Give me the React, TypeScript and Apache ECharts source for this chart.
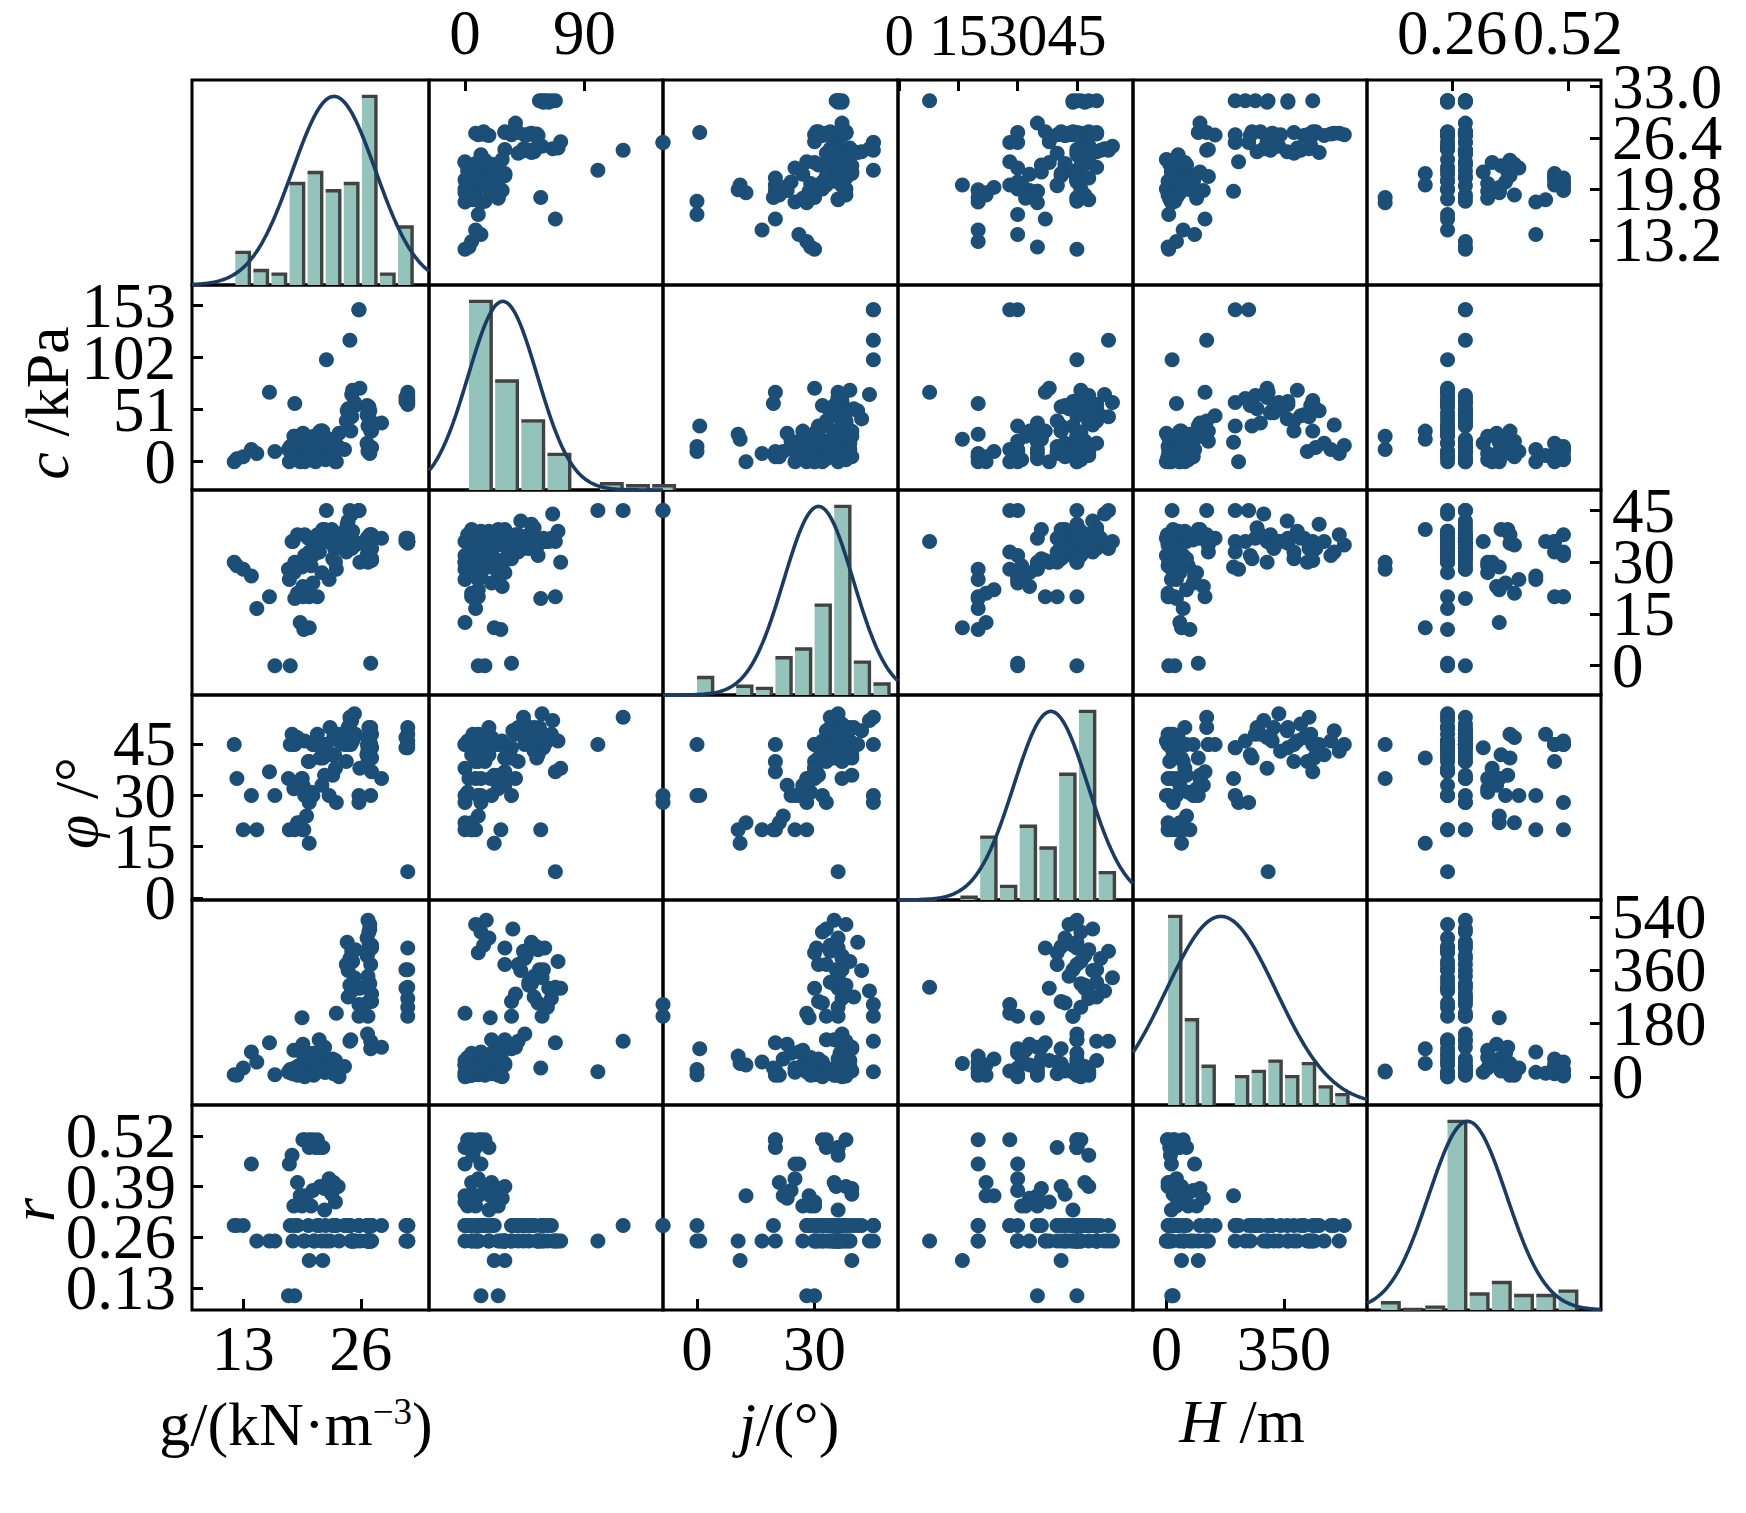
import React, { useEffect, useRef } from "react";
import * as echarts from "echarts";

// ---- observations (one entry per sample, same order in every array) ----
const gamma = [
  31.2, 31.2, 31.2, 31.2, 31.2, 31.2, 31.0, 31.0, 25.8, 25.8, 19.5, 23.3,
  26.8, 27.0, 26.7, 27.2, 26.9, 26.8, 27.1, 26.7, 26.9, 27.0, 26.8, 27.2, 26.7, 26.9, 27.0, 26.8,
  24.6, 25.0, 24.8, 25.3, 24.6, 25.1, 24.8, 25.4, 24.5, 25.0,
  27.2, 25.9, 24.4, 27.2,
  19.6, 20.3, 21.0, 21.8, 20.3, 21.4, 13.9, 18.1, 19.0, 22.5,
  23.0, 20.7, 19.8, 21.2, 18.4, 19.3, 20.0, 20.7, 22.0, 22.8,
  23.5, 19.6, 21.5, 19.5, 20.5, 22.0, 23.2, 18.6, 20.3, 21.8,
  18.0, 18.7, 12.0, 12.3, 14.5, 15.9, 16.5, 18.2, 18.7, 22.2,
  24.8, 27.1, 26.75, 27.1, 28.3, 24.9, 21.4, 18.5, 19.0, 19.8,
  20.2, 20.8, 21.2, 21.7, 22.1, 22.6, 23.1, 23.6, 24.2, 19.7,
  22.9, 20.9, 13.0,
];
const cohesion = [
  58, 62, 65, 68, 56, 60, 63, 59, 149, 149, 19, 0,
  35, 50, 55, 38, 48, 52, 30, 46, 54, 36, 10, 14, 18, 12, 8, 16,
  52, 66, 48, 58, 42, 70, 45, 55, 50, 44,
  35, 72, 40, 30,
  5, 12, 0, 18, 8, 3, 12, 0, 5, 10,
  20, 15, 2, 10, 6, 0, 10, 20, 25, 5,
  15, 28, 30, 8, 2, 18, 0, 25, 22, 30,
  12, 25, 0, 3, 8, 68, 10, 15, 57, 100,
  119, 35, 45, 40, 38, 30, 20, 5, 20, 0,
  15, 25, 10, 30, 2, 18, 8, 28, 12, 27,
  22, 5, 5,
];
const phi = [
  36, 36, 37, 36, 35.5, 36, 36, 37, 45, 45, 28.6, 28,
  33, 35, 32, 38, 34, 36, 31, 37, 35, 33, 30, 34, 36, 32, 38, 35,
  40, 44, 38, 36, 42, 39, 37, 35, 41, 34,
  31, 30, 33, 30.5,
  20, 33, 36, 36, 20, 33, 26, 25, 21, 25,
  35, 32, 38, 20, 36, 12.5, 22, 24, 39.5, 39.5,
  35.5, 23, 38, 30, 29, 36, 30, 27, 11, 39.5,
  28, 30, 30, 29, 16.6, 20, 0, 0, 19.5, 45,
  45, 0.7, 37, 38, 37, 35, 33, 36, 38, 32,
  37, 35, 38, 27, 36, 39, 34, 37, 39, 10.5,
  31, 36.5, 28,
];
const psi = [
  44, 46, 48, 7.7, 50, 45, 47, 44, 30, 28, 35, 28,
  44, 46, 42, 48, 50, 43, 45, 47, 41, 49, 40, 44, 42, 46, 43, 45,
  50, 52, 47, 54, 49, 46, 51, 48, 45, 53,
  41, 38, 40, 37,
  20, 28, 45, 45, 40, 45, 30, 20, 22, 30,
  47, 45, 46, 45, 48, 22, 24, 30, 36, 42,
  48, 33, 41, 35, 31, 44, 38, 32, 16, 41,
  35, 45, 45, 35, 20, 37, 30, 45, 20, 45,
  53, 30, 45, 50, 35, 45, 45, 45, 47, 30,
  40, 45, 48, 33, 45, 50, 42, 46, 45, 20,
  36, 45, 20,
];
const height = [
  205, 235, 265, 303, 362, 436, 300, 362, 205, 245, 200, 215,
  205, 315, 250, 280, 320, 340, 380, 410, 440, 500, 420, 445, 470, 490, 515, 530,
  270, 290, 310, 335, 360, 390, 400, 430, 455, 425,
  255, 300, 380, 436,
  5, 20, 40, 60, 10, 30, 84, 15, 5, 30,
  10, 50, 3, 25, 12, 40, 60, 80, 100, 20,
  5, 110, 45, 30, 65, 15, 55, 90, 45, 95,
  16, 20, 7, 5, 50, 115, 7, 25, 30, 17,
  120, 95, 145, 120, 100, 125, 125, 10, 35, 0,
  50, 5, 20, 40, 15, 55, 25, 0, 35, 70,
  60, 80, 30,
];
const ratio = [
  0.29, 0.25, 0.29, 0.25, 0.25, 0.29, 0.29, 0.25, 0.29, 0.29, 0.366, 0.29,
  0.25, 0.29, 0.25, 0.29, 0.25, 0.29, 0.25, 0.29, 0.25, 0.29, 0.25, 0.29, 0.25, 0.29, 0.25, 0.29,
  0.29, 0.25, 0.29, 0.25, 0.29, 0.25, 0.29, 0.25, 0.29, 0.25,
  0.29, 0.25, 0.29, 0.25,
  0.51, 0.51, 0.49, 0.49, 0.49, 0.49, 0.448, 0.448, 0.40, 0.41,
  0.40, 0.51, 0.51, 0.51, 0.47, 0.366, 0.366, 0.38, 0.385, 0.37,
  0.39, 0.36, 0.39, 0.34, 0.34, 0.33, 0.35, 0.34, 0.2, 0.2,
  0.11, 0.11, 0.29, 0.29, 0.25, 0.25, 0.25, 0.29, 0.29, 0.25,
  0.29, 0.25, 0.29, 0.25, 0.29, 0.25, 0.29, 0.25, 0.29, 0.25,
  0.29, 0.25, 0.29, 0.25, 0.29, 0.25, 0.29, 0.25, 0.29, 0.25,
  0.29, 0.25, 0.29,
];

// ---- histogram counts on the diagonal ----
const gammaHist = [9, 4, 3, 28, 31, 26, 28, 52, 3, 16];
const cohesionHist = [90, 52, 33, 17, 0, 3, 2, 2];
const phiHist = [8, 0, 4, 3, 17, 21, 41, 86, 15, 5];
const psiHist = [0.2, 0, 1, 23, 5, 27, 19, 46, 69, 10];
const heightHist = [73, 33, 15, 0, 11, 13, 17, 11, 16, 7, 4];
const ratioHist = [5, 0.3, 2, 130, 11, 19, 10, 10, 13];
const histStart = [11.9, 1.5, -0.5, 5, -1, 0.096];
const histWidth = [2.0, 19.7, 5.0, 5.0, 49.8, 0.0498];

// fitted normal curves
const curveMean = [23.04, 28.4, 31.0, 38.4, 162.6, 0.295];
const curveSd = [4.6, 26, 8.9, 9.4, 164, 0.0875];

// axis ranges / ticks
const colMin = [7.33, -27.09, -8.67, -0.3, -99.5, 0.0693];
const colMax = [33.55, 149.0, 51.28, 59.2, 597.6, 0.5942];
const rowMin = [7.39, -27.7, -8.5, -0.62, -95.4, 0.0733];
const rowMax = [33.87, 173.2, 50.97, 59.5, 598.3, 0.599];
const colTicks = [[13, 26], [0, 90], [0, 30], [0, 15, 30, 45], [0, 350], [0.26, 0.52]];
const rowTicks = [[13.2, 19.8, 26.4, 33.0], [0, 51, 102, 153], [0, 15, 30, 45], [0, 15, 30, 45], [0, 180, 360, 540], [0.13, 0.26, 0.39, 0.52]];
const colDecimals = [0, 0, 0, 0, 0, 2];
const rowDecimals = [1, 0, 0, 0, 0, 2];

const COL_EDGES = [192, 429, 663, 898, 1133, 1367, 1601];
const ROW_TOP = 80;
const ROW_H = 205;
const FONT = "Liberation Serif, Times New Roman, serif";
const DOT = "#1B4F78";
const CURVE = "#1A3C64";
const BAR_FILL = "#93C3BA";
const BAR_EDGE = "#424242";

export default function App() {
  const ref = useRef<HTMLDivElement>(null);
  useEffect(() => {
    const chart = echarts.init(ref.current!, null, { renderer: "svg" });
    const vars = [gamma, cohesion, phi, psi, height, ratio];
    const hists = [gammaHist, cohesionHist, phiHist, psiHist, heightHist, ratioHist];

    const grids: any[] = [];
    const xAxes: any[] = [];
    const yAxes: any[] = [];
    const extraY: any[] = [];
    const series: any[] = [];
    const labelBase = {
      show: true,
      fontSize: 63,
      fontFamily: FONT,
      color: "#000",
      hideOverlap: false,
      showMinLabel: true,
      showMaxLabel: true,
    };
    const tickBase = { inside: true, length: 11, lineStyle: { width: 3, color: "#000" } };

    for (let i = 0; i < 6; i++) {
      for (let j = 0; j < 6; j++) {
        const k = i * 6 + j;
        grids.push({
          left: COL_EDGES[j],
          top: ROW_TOP + i * ROW_H,
          width: COL_EDGES[j + 1] - COL_EDGES[j],
          height: ROW_H,
          show: true,
          borderColor: "#000",
          borderWidth: 3,
          backgroundColor: "transparent",
          containLabel: false,
          outerBoundsMode: "none",
        });
        const showX = (i === 0 && j % 2 === 1) || (i === 5 && j % 2 === 0);
        const cd = colDecimals[j];
        xAxes.push({
          type: "value",
          gridIndex: k,
          min: colMin[j],
          max: colMax[j],
          position: i === 0 ? "top" : "bottom",
          axisLine: { show: false },
          splitLine: { show: false },
          axisTick: showX ? { ...tickBase, show: true, customValues: colTicks[j] } : { show: false },
          axisLabel: showX
            ? {
                ...labelBase,
                fontSize: j === 3 ? 59 : 63,
                customValues: colTicks[j],
                margin: i === 0 ? 16 : 7,
                formatter: (v: number) => v.toFixed(cd),
              }
            : { show: false },
        });
        const diag = i === j;
        const showY = !diag && ((j === 0 && i % 2 === 1) || (j === 5 && i % 2 === 0));
        const rd = rowDecimals[i];
        const hmax = Math.max(...hists[i]);
        const yPos = j === 5 ? "right" : "left";
        const yMargin = j === 5 ? 11 : 16;
        const ticks = rowTicks[i];
        const evenTicks = ticks.filter((_, q) => q % 2 === 0);
        const oddTicks = ticks.filter((_, q) => q % 2 === 1);
        const yLabel = (vals: number[]) => ({
          ...labelBase,
          customValues: vals,
          margin: yMargin,
          padding: [0, 0, 13, 0],
          formatter: (v: number) => v.toFixed(rd),
        });
        yAxes.push({
          type: "value",
          gridIndex: k,
          min: diag ? 0 : rowMin[i],
          max: diag ? hmax / 0.92 : rowMax[i],
          position: yPos,
          axisLine: { show: false },
          splitLine: { show: false },
          axisTick: showY ? { ...tickBase, show: true, customValues: ticks } : { show: false },
          axisLabel: showY ? yLabel(evenTicks) : { show: false },
        });
        if (showY) {
          // second label layer for the remaining ticks of the same scale
          extraY.push({
            type: "value",
            gridIndex: k,
            min: rowMin[i],
            max: rowMax[i],
            position: yPos,
            offset: 0,
            axisLine: { show: false },
            splitLine: { show: false },
            axisTick: { show: false },
            axisLabel: yLabel(oddTicks),
          });
        }

        if (diag) {
          const h = hists[i];
          const st = histStart[i];
          const w = histWidth[i];
          series.push({
            type: "custom",
            xAxisIndex: k,
            yAxisIndex: k,
            clip: false,
            encode: { x: [0, 1], y: 2 },
            data: h.map((v, b) => [st + b * w, st + (b + 1) * w, v]),
            renderItem: (params: any, api: any) => {
              const val = api.value(2);
              if (!val) return null;
              const a = api.coord([api.value(0), 0]);
              const b = api.coord([api.value(1), val]);
              const x0 = a[0] + 2;
              const x1 = b[0] - 2;
              const yb = a[1];
              const yt = b[1];
              return {
                type: "group",
                children: [
                  { type: "rect", shape: { x: x0, y: yt, width: x1 - x0, height: yb - yt }, style: { fill: BAR_FILL } },
                  {
                    type: "polyline",
                    shape: { points: [[x0, yt], [x1, yt], [x1, yb]] },
                    style: { stroke: BAR_EDGE, lineWidth: 3.4, fill: "none" },
                  },
                ],
              };
            },
            z: 2,
          });
          const m = curveMean[i];
          const s = curveSd[i];
          const pts: number[][] = [];
          const n = 200;
          for (let q = 0; q <= n; q++) {
            const x = colMin[j] + ((colMax[j] - colMin[j]) * q) / n;
            const z = (x - m) / s;
            pts.push([x, hmax * Math.exp(-0.5 * z * z)]);
          }
          series.push({
            type: "line",
            xAxisIndex: k,
            yAxisIndex: k,
            data: pts,
            showSymbol: false,
            symbol: "none",
            smooth: false,
            lineStyle: { color: CURVE, width: 3.6 },
            z: 3,
          });
        } else {
          const xs = vars[j];
          const ys = vars[i];
          series.push({
            type: "scatter",
            xAxisIndex: k,
            yAxisIndex: k,
            clip: false,
            symbol: "circle",
            symbolSize: 15,
            itemStyle: { color: DOT, opacity: 1 },
            data: xs.map((x, q) => [x, ys[q]]),
            z: 2,
          });
        }
      }
    }

    const titleStyle = (text: string) => ({
      text,
      fontSize: 62,
      fontFamily: FONT,
      fill: "#000",
      align: "center",
      verticalAlign: "middle",
      rich: {
        i: { fontSize: 62, fontFamily: FONT, fontStyle: "italic", fill: "#000" },
        n: { fontSize: 62, fontFamily: FONT, fill: "#000" },
        s: { fontSize: 37, fontFamily: FONT, fill: "#000", verticalAlign: "top" },
      },
    });

    const graphic = [
      { type: "text", x: 296, y: 1424, style: titleStyle("{n|g/(kN·m}{s|−3}{n|)}") },
      { type: "text", x: 789, y: 1424, style: titleStyle("{i|j}{n|/(°)}") },
      { type: "text", x: 1242, y: 1421, style: titleStyle("{i|H}{n| /m}") },
      { type: "text", x: 47, y: 403, rotation: Math.PI / 2, style: titleStyle("{i|c}{n| /kPa}") },
      { type: "text", x: 76, y: 803, rotation: Math.PI / 2, style: titleStyle("{i|φ}{n| /°}") },
      { type: "text", x: 33, y: 1210, rotation: Math.PI / 2, style: titleStyle("{i|r}") },
    ];

    chart.setOption({
      animation: false,
      backgroundColor: "#fff",
      grid: grids,
      xAxis: xAxes,
      yAxis: [...yAxes, ...extraY],
      series,
      graphic,
    });
    return () => chart.dispose();
  }, []);
  return (
    <div
      ref={ref}
      style={{ position: "absolute", left: 0, top: 0, width: 1746, height: 1513, background: "#fff" }}
    />
  );
}
